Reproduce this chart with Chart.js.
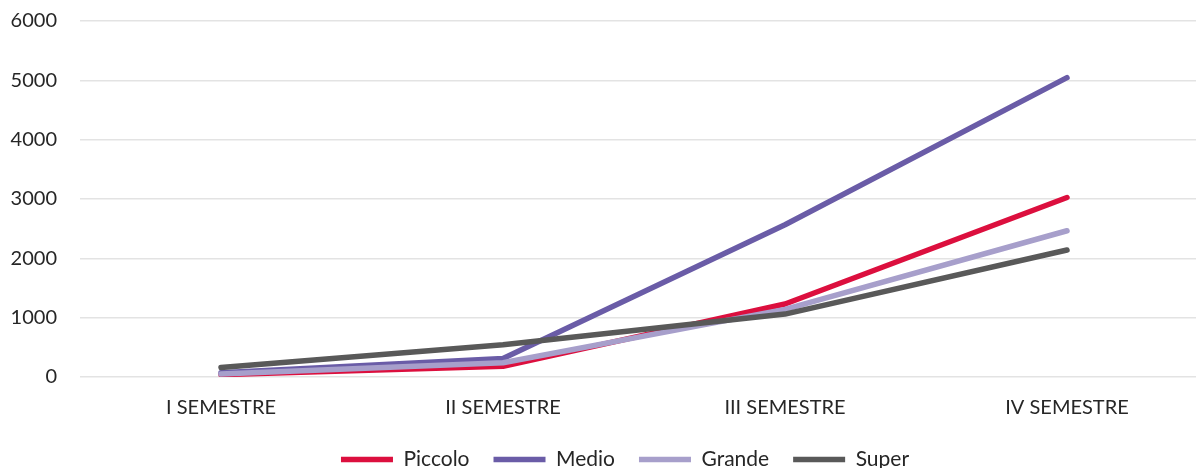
<!DOCTYPE html>
<html>
<head>
<meta charset="utf-8">
<script src="https://cdn.jsdelivr.net/npm/chart.js@4.4.1/dist/chart.umd.min.js"></script>
<style>
  html, body { margin: 0; padding: 0; background: #fff; overflow: hidden; }
  #wrap { width: 1250px; height: 480px; }
</style>
</head>
<body>
<div id="wrap"><canvas id="c" width="1250" height="480"></canvas></div>
<script>
const categories = ["I SEMESTRE", "II SEMESTRE", "III SEMESTRE", "IV SEMESTRE"];
const piccolo = [40, 180, 1230, 3025];
const medio = [70, 310, 2565, 5045];
const grande = [50, 240, 1140, 2465];
const superSeries = [160, 545, 1060, 2140];
const yTicks = [0, 1000, 2000, 3000, 4000, 5000, 6000];

const FONT = "Lato, 'Open Sans', sans-serif";
const TXT = "#262626";

function ds(label, data, color, order) {
  return {
    label, data, order,
    borderColor: color, backgroundColor: color,
    borderWidth: 5.5, borderCapStyle: 'round', borderJoinStyle: 'round',
    pointRadius: 0, pointHoverRadius: 0, tension: 0, fill: false
  };
}

const shiftLegend = {
  id: 'shiftLegend',
  afterLayout(chart) {
    if (chart.legend) { chart.legend.left += 16; chart.legend.right += 16; }
  }
};

new Chart(document.getElementById('c'), {
  type: 'line',
  data: {
    labels: categories,
    datasets: [
      ds('Piccolo', piccolo, '#DC0F3E', 4),
      ds('Medio', medio, '#6A5CA7', 3),
      ds('Grande', grande, '#A79FCB', 2),
      ds('Super', superSeries, '#595959', 1)
    ]
  },
  plugins: [shiftLegend],
  options: {
    responsive: false,
    animation: false,
    layout: { autoPadding: false, padding: { left: 10, right: 42, top: 21, bottom: 0 } },
    plugins: {
      tooltip: { enabled: false },
      legend: {
        position: 'bottom',
        labels: {
          usePointStyle: true,
          pointStyle: 'line',
          pointStyleWidth: 52,
          padding: 24,
          color: TXT,
          font: { family: FONT, size: 21 },
          sort: (a, b) => a.datasetIndex - b.datasetIndex
        }
      }
    },
    scales: {
      x: {
        offset: true,
        grid: { display: false },
        border: { display: false },
        ticks: { color: TXT, font: { family: FONT, size: 20 }, padding: 11, maxRotation: 0 },
        afterFit: (s) => { s.height = 48; s.paddingLeft = 0; s.paddingRight = 0; }
      },
      y: {
        min: 0, max: 6000,
        afterBuildTicks: (s) => { s.ticks = yTicks.map(v => ({ value: v })); },
        grid: { color: '#e3e3e3', lineWidth: 1.5, drawTicks: false },
        border: { display: false },
        ticks: { color: TXT, font: { family: FONT, size: 20 }, padding: 23, callback: (v) => String(v) },
        afterFit: (s) => { s.width = 70; s.paddingTop = 0; s.paddingBottom = 0; }
      }
    }
  }
});
</script>
</body>
</html>
